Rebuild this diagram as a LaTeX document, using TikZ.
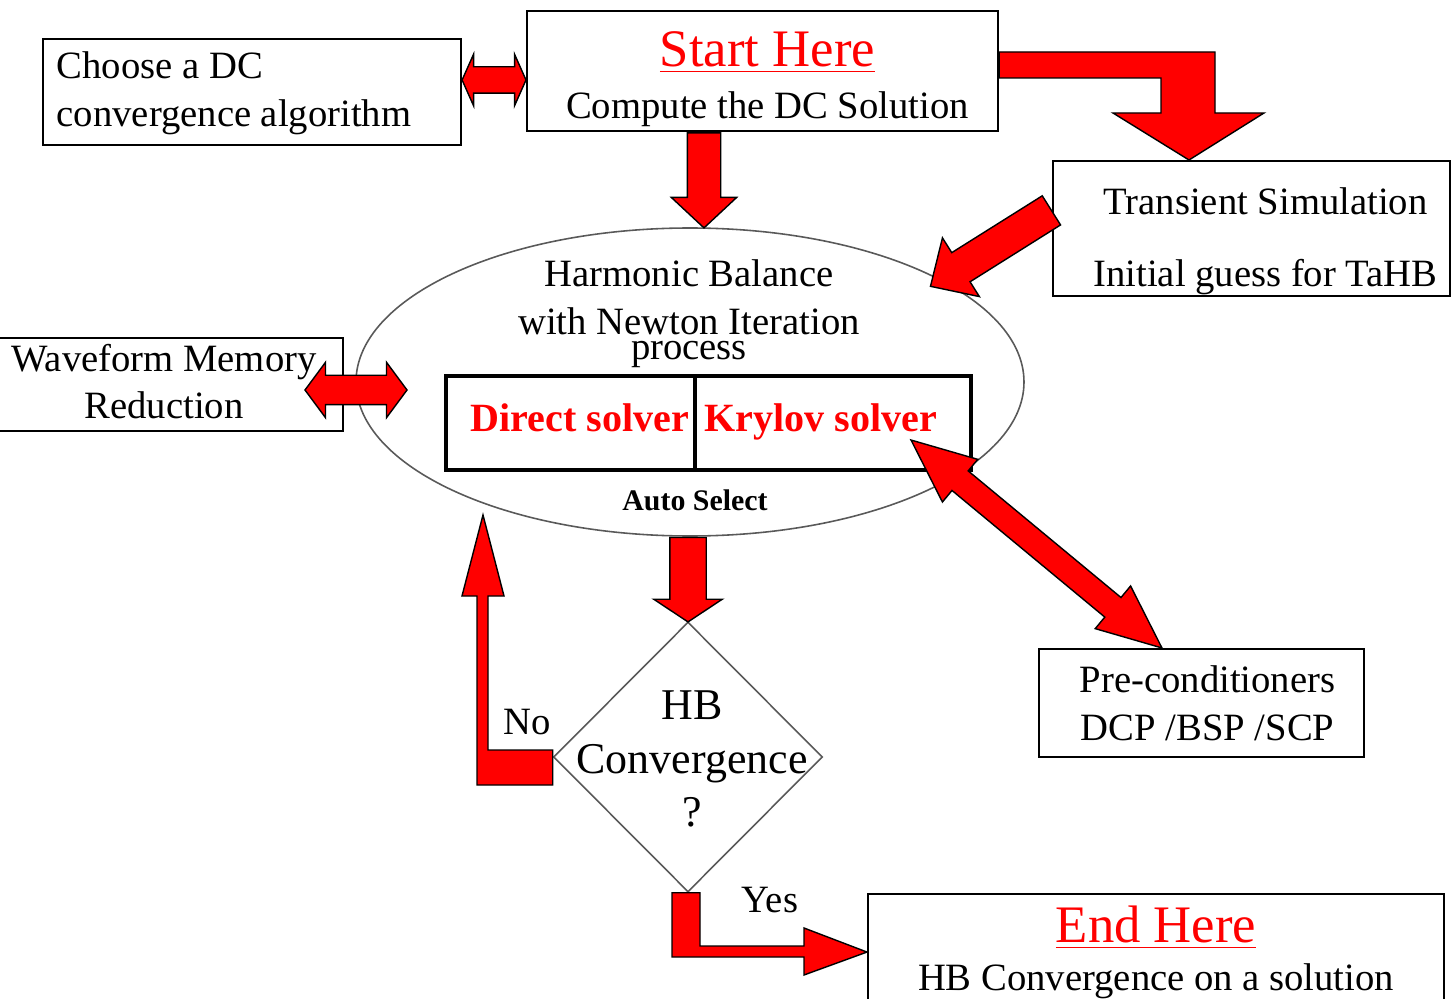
\documentclass[tikz,border=0pt]{standalone}
\usepackage{fontspec}
\setmainfont{Liberation Serif}
\usetikzlibrary{shapes.geometric, shapes.arrows, calc}
\tikzset{
    box/.style={draw, line width=0.6pt, inner sep=0pt, align=center}, % text boxes
    boxtext/.style={align=center, inner sep=0pt}, % text set inside a box
    solver/.style={draw, line width=1.1pt, inner sep=0pt, outer sep=0pt}, % solver cells
    solvertext/.style={text=red, inner sep=0pt, text height=1.6ex, text depth=0.5ex, font=\fontsize{11.4}{14}\selectfont\bfseries},
    fat/.style={draw=black, fill=red, line width=0.4pt}, % red block arrows
    fatone/.style n args={3}{fat, single arrow, anchor=tail, inner xsep=0pt, inner ysep=#1, single arrow head extend=#2, single arrow tip angle=#3, minimum width=0pt},
    fattwo/.style n args={3}{fat, double arrow, inner xsep=0pt, inner ysep=#1, double arrow head extend=#2, double arrow tip angle=#3, minimum width=0pt}
}
\newcommand\fatarrow[3][]{\path let \p1=($(#3)-(#2)$) in node[#1, minimum height={veclen(\x1,\y1)}, rotate={atan2(\y1,\x1)}] at ($(#2)!.5!(#3)$) {};}
\newcommand\fatsingle[3][]{\path let \p1=($(#3)-(#2)$) in node[#1, minimum height={veclen(\x1,\y1)}, rotate={atan2(\y1,\x1)}] at (#2) {};}
\newcommand\hereline[1]{{\fontsize{15}{18}\selectfont\color{red}\underline{#1}}}

\begin{document}
\begin{tikzpicture}[font=\fontsize{11}{13.6}\selectfont]
            \useasboundingbox (0,0) rectangle (14.54,-9.99);

            \node[box, anchor=north west, minimum width=4.18cm, minimum height=1.06cm,
                  label={[boxtext, align=left, anchor=west, xshift=0.14cm, yshift=-0.01cm]west:Choose a DC\\convergence algorithm}] (choose) at (0.42,-0.38) {};
            \node[box, anchor=north west, minimum width=4.71cm, minimum height=1.20cm,
                  label={[boxtext, xshift=0.05cm, yshift=-0.08cm]center:\hereline{Start Here}\\[1.4pt]Compute the DC Solution}] (start) at (5.26,-0.10) {};
            \node[box, anchor=north west, minimum width=3.97cm, minimum height=1.35cm,
                  label={[boxtext, xshift=0.14cm, yshift=-0.13cm]center:Transient Simulation\\[6.8pt]Initial guess for TaHB}] (trans) at (10.52,-1.60) {};
            \node[box, anchor=north west, minimum width=3.52cm, minimum height=0.93cm,
                  label={[boxtext, xshift=-0.03cm, yshift=0.03cm]center:Waveform Memory\\Reduction}] (wave) at (-0.10,-3.37) {};
            \node[box, anchor=north west, minimum width=3.25cm, minimum height=1.08cm,
                  label={[boxtext, xshift=0.06cm]center:Pre-conditioners\\DCP /BSP /SCP}] (pre) at (10.38,-6.48) {};
            \node[box, anchor=north west, minimum width=5.76cm, minimum height=1.16cm] (end) at (8.67,-8.93) {\hereline{End Here}\\HB Convergence on a solution};

            % harmonic balance ellipse
            \node[ellipse, draw=gray!70!black, line width=0.45pt, minimum width=6.68cm, minimum height=3.08cm, inner sep=0pt] (hb) at (6.90,-3.82) {};
            \node[align=center] (hbtext) at (6.89,-3.14) {Harmonic Balance\\with Newton Iteration\\[-6.4pt]process};
            \node[solver, anchor=north west, minimum width=2.49cm, minimum height=0.94cm,
                  label={[solvertext, xshift=0.095cm, yshift=0.0cm]center:Direct solver}] (dir) at (4.46,-3.76) {};
            \node[solver, anchor=north west, minimum width=2.76cm, minimum height=0.94cm,
                  label={[solvertext, xshift=-0.12cm, yshift=0.0cm]center:Krylov solver}] (kry) at (dir.north east) {};
            \node[font=\fontsize{8.5}{10}\selectfont\bfseries] (auto) at (6.95,-5.00) {Auto Select};

            % decision
            \node[diamond, draw=gray!70!black, line width=0.45pt, minimum width=2.69cm, minimum height=2.70cm, inner sep=0pt,
                  label={[align=center, xshift=0.04cm, yshift=-0.02cm, font=\fontsize{12.5}{15.3}\selectfont]center:HB\\Convergence\\?}] (conv) at (6.88,-7.57) {};
            \node (no) at (5.27,-7.22) {No};
            \node (yes) at (7.70,-9.00) {Yes};

            % arrow ends
            \coordinate (c1) at (choose.east |- 0,-0.80);
            \coordinate (c2) at (start.west |- 0,-0.80);
            \coordinate (s1) at (start.south -| 7.04,0);
            \coordinate (s2) at (hb.north -| 7.04,0);
            \coordinate (t1) at (trans.west |- 0,-2.10);
            \coordinate (t2) at (9.31,-2.86);
            \coordinate (w1) at (3.05,-3.90);
            \coordinate (w2) at (4.07,-3.90);
            \coordinate (k1) at (9.11,-4.40);
            \coordinate (k2) at (pre.north -| 11.62,0);
            \coordinate (h1) at (hb.south -| conv.north);
            \coordinate (noend) at (4.83,-5.15);

            \fatarrow[fattwo={0.125cm}{0.125cm}{132}]{c1}{c2}
            \fatsingle[fatone={0.16cm}{0.16cm}{94}]{s1}{s2}
            \fatsingle[fatone={0.165cm}{0.175cm}{88}]{t1}{t2}
            \fatarrow[fattwo={0.14cm}{0.13cm}{107}]{w1}{w2}
            \fatarrow[fattwo={0.12cm}{0.15cm}{47}]{k1}{k2}
            \fatsingle[fatone={0.175cm}{0.16cm}{113}]{h1}{conv.north}

            \draw[fat] (start.east |- 0,-0.52) -| (12.15,-1.13) -- (12.64,-1.13) -- (trans.north -| 11.89,0) -- (11.13,-1.13) -- (11.61,-1.13) |- (start.east |- 0,-0.78) -- cycle;
            \draw[fat] (conv.west |- 0,-7.50) -- (4.88,-7.50) -- (4.88,-5.96) -- (5.04,-5.96) -- (noend) -- (4.62,-5.96) -- (4.77,-5.96) -- (4.77,-7.85) -- (conv.west |- 0,-7.85) -- cycle;
            \draw[fat] (conv.south -| 6.72,0) -- (conv.south -| 7.00,0) -- (7.00,-9.46) -- (8.04,-9.46) -- (8.04,-9.28) -- (end.west) -- (8.04,-9.75) -- (8.04,-9.57) -- (6.72,-9.57) -- cycle;
\end{tikzpicture}
\end{document}
